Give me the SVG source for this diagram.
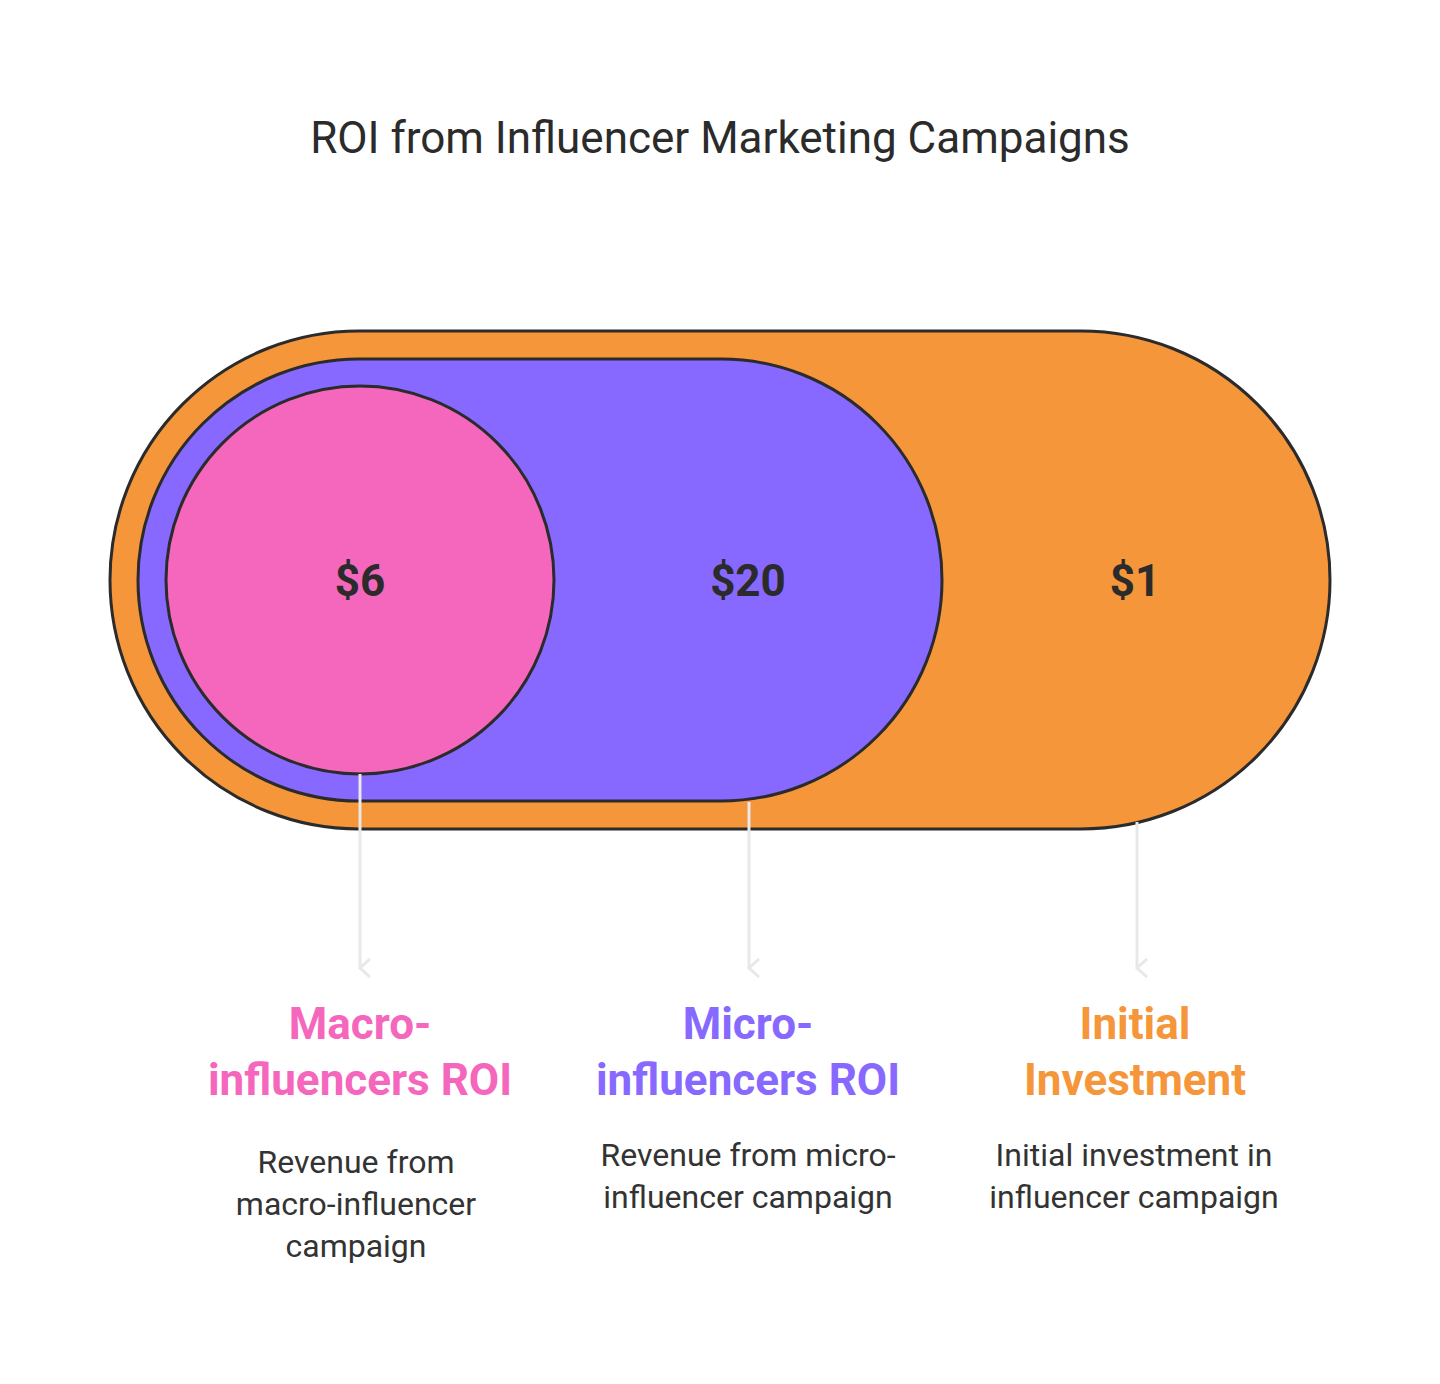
<svg xmlns="http://www.w3.org/2000/svg" width="1440" height="1384" viewBox="0 0 1440 1384">
<defs>
<style>
.s{stroke:#2b2b2b;stroke-width:3}
.v{font-family:Roboto,"Liberation Sans",sans-serif;font-weight:700;font-size:44px;fill:#2b2b2b;text-anchor:middle}
.h{font-family:Roboto,"Liberation Sans",sans-serif;font-weight:700;font-size:44px;text-anchor:middle}
.d{font-family:Roboto,"Liberation Sans",sans-serif;font-size:32px;fill:#333;text-anchor:middle}
.c{stroke:#e8e8e8;stroke-width:3;fill:none}
</style>
<marker id="a" viewBox="0 0 20 20" refX="10" refY="18" markerWidth="20" markerHeight="20" markerUnits="userSpaceOnUse" orient="auto-start-reverse">
<path d="M1 8 L10 18 L19 8" fill="none" stroke="#e8e8e8" stroke-width="3"/>
</marker>
</defs>
<rect width="1440" height="1384" fill="#fff"/>
<text x="720" y="153" font-family="Roboto,'Liberation Sans',sans-serif" font-size="44" fill="#2b2b2b" text-anchor="middle">ROI from Influencer Marketing Campaigns</text>
<g id="initial"><rect class="s" x="110" y="331" width="1220" height="498" rx="249" fill="#F6963A"/><text class="v" x="1135" y="596">$1</text></g>
<g id="micro"><rect class="s" x="138" y="359" width="804" height="442" rx="221" fill="#8769FF"/><text class="v" x="748" y="596">$20</text></g>
<g id="macro"><circle class="s" cx="360" cy="580" r="194" fill="#F467BD"/><text class="v" x="360" y="596">$6</text></g>
<g id="connectors">
<path class="c" d="M360 774 V968" marker-end="url(#a)"/>
<path class="c" d="M749 802 V968" marker-end="url(#a)"/>
<path class="c" d="M1137 822 V968" marker-end="url(#a)"/>
</g>
<g id="label-macro"><text class="h" fill="#F467BD" x="360" y="1039">Macro-</text><text class="h" fill="#F467BD" x="360" y="1095">influencers ROI</text>
<text class="d" x="356" y="1173">Revenue from</text><text class="d" x="356" y="1215">macro-influencer</text><text class="d" x="356" y="1257">campaign</text></g>
<g id="label-micro"><text class="h" fill="#8769FF" x="748" y="1039">Micro-</text><text class="h" fill="#8769FF" x="748" y="1095">influencers ROI</text>
<text class="d" x="748" y="1166">Revenue from micro-</text><text class="d" x="748" y="1208">influencer campaign</text></g>
<g id="label-initial"><text class="h" fill="#F6963A" x="1135" y="1039">Initial</text><text class="h" fill="#F6963A" x="1135" y="1095">Investment</text>
<text class="d" x="1134" y="1166">Initial investment in</text><text class="d" x="1134" y="1208">influencer campaign</text></g>
</svg>
